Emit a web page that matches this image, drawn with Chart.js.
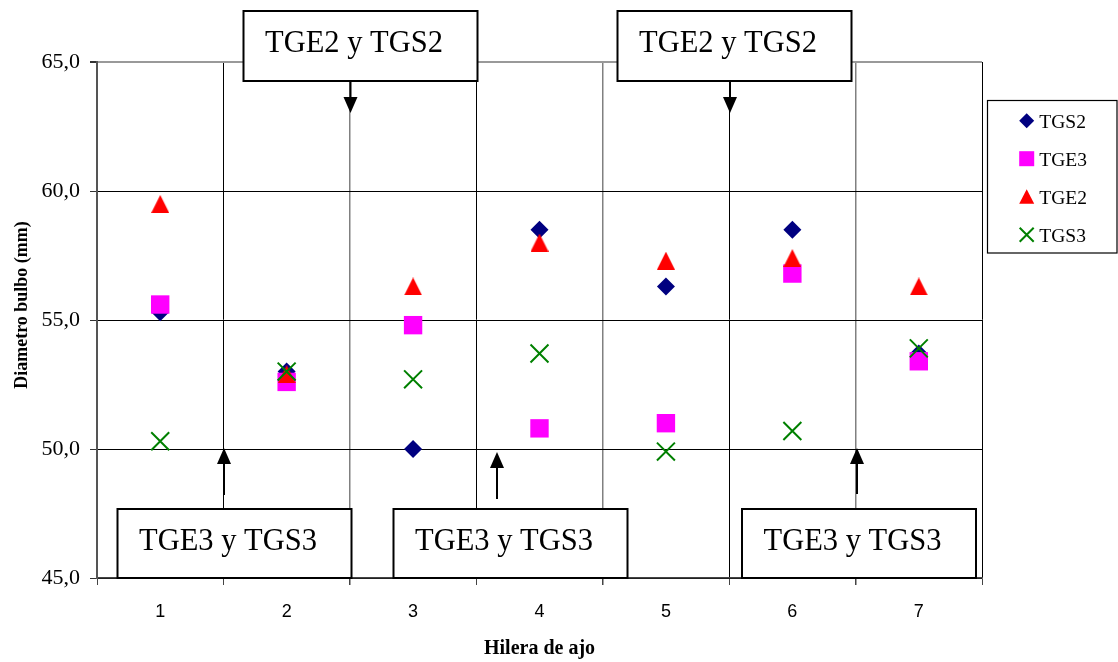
<!DOCTYPE html>
<html>
<head>
<meta charset="utf-8">
<script src="https://cdn.jsdelivr.net/npm/chart.js@4.4.0/dist/chart.umd.min.js"></script>
<style>
  html, body { margin: 0; padding: 0; background: #fff; }
  canvas { display: block; }
</style>
</head>
<body>
<canvas id="grafico" width="1118" height="662"></canvas>
<script>
// Datos
const hileras = ["1", "2", "3", "4", "5", "6", "7"];
const tgs2 = [55.3, 53.0, 50.0, 58.5, 56.3, 58.5, 53.7];
const tge3 = [55.6, 52.6, 54.8, 50.8, 51.0, 56.8, 53.4];
const tge2 = [59.5, 52.9, 56.3, 58.0, 57.3, 57.4, 56.3];
const tgs3 = [50.3, 53.0, 52.7, 53.7, 49.9, 50.7, 53.9];
const yTicks = [45, 50, 55, 60, 65];

// cuadros de texto con flechas (en pixeles)
const notas = [
  { texto: "TGE2 y TGS2", x: 243.5, y: 11, w: 234, h: 70, fx: 350.5, desde: 81, punta: 113 },
  { texto: "TGE2 y TGS2", x: 617.5, y: 11, w: 234, h: 70, fx: 730, desde: 81, punta: 113 },
  { texto: "TGE3 y TGS3", x: 117.5, y: 509, w: 234, h: 69, fx: 224, desde: 495, punta: 448 },
  { texto: "TGE3 y TGS3", x: 393.5, y: 509, w: 234, h: 69, fx: 497, desde: 499, punta: 452 },
  { texto: "TGE3 y TGS3", x: 742, y: 509, w: 234, h: 69, fx: 857, desde: 494, punta: 448 }
];

const colores = { tgs2: "#000080", tge3: "#ff00ff", tge2: "#ff0000", tgs3: "#008000" };

function triangulo(w, h, color) {
  const c = document.createElement("canvas");
  c.width = w;
  c.height = h;
  const g = c.getContext("2d");
  g.fillStyle = color;
  g.beginPath();
  g.moveTo(w / 2, 0);
  g.lineTo(w, h);
  g.lineTo(0, h);
  g.closePath();
  g.fill();
  return c;
}
const triImg = triangulo(18, 18, colores.tge2);

const vCol = ["#000", "#000", "#808080", "#000", "#808080", "#000", "#808080", "#999"];
const vAnc = [1, 1, 1.5, 1, 1.5, 1, 1.5, 2];

function marcador(ctx, tipo, x, y) {
  ctx.save();
  if (tipo === "rombo") {
    ctx.fillStyle = colores.tgs2;
    ctx.beginPath();
    ctx.moveTo(x, y - 7.5); ctx.lineTo(x + 7.5, y); ctx.lineTo(x, y + 7.5); ctx.lineTo(x - 7.5, y);
    ctx.closePath(); ctx.fill();
  } else if (tipo === "cuadro") {
    ctx.fillStyle = colores.tge3;
    ctx.fillRect(x - 7.5, y - 7.5, 15, 15);
  } else if (tipo === "tri") {
    ctx.fillStyle = colores.tge2;
    ctx.beginPath();
    ctx.moveTo(x, y - 7.5); ctx.lineTo(x + 7.5, y + 7); ctx.lineTo(x - 7.5, y + 7);
    ctx.closePath(); ctx.fill();
  } else {
    ctx.strokeStyle = colores.tgs3;
    ctx.lineWidth = 2;
    ctx.beginPath();
    ctx.moveTo(x - 7, y - 7); ctx.lineTo(x + 7, y + 7);
    ctx.moveTo(x + 7, y - 7); ctx.lineTo(x - 7, y + 7);
    ctx.stroke();
  }
  ctx.restore();
}

function flecha(ctx, x, y0, tip) {
  const dir = tip > y0 ? 1 : -1;
  const base = tip - dir * 16;
  ctx.strokeStyle = "#000";
  ctx.lineWidth = 2;
  ctx.beginPath();
  ctx.moveTo(x, y0);
  ctx.lineTo(x, base);
  ctx.stroke();
  ctx.fillStyle = "#000";
  ctx.beginPath();
  ctx.moveTo(x, tip);
  ctx.lineTo(x - 7, base);
  ctx.lineTo(x + 7, base);
  ctx.closePath();
  ctx.fill();
}

const extras = {
  id: "extras",
  beforeDraw(chart) {
    const ctx = chart.ctx;
    ctx.save();
    ctx.fillStyle = "#fff";
    ctx.fillRect(0, 0, chart.width, chart.height);
    ctx.restore();
  },
  afterDraw(chart) {
    const ctx = chart.ctx;
    ctx.save();

    // titulo eje y
    ctx.save();
    ctx.translate(22, 305);
    ctx.rotate(-Math.PI / 2);
    ctx.font = "bold 18px 'Liberation Serif'";
    ctx.fillStyle = "#000";
    ctx.textAlign = "center";
    ctx.textBaseline = "middle";
    ctx.fillText("Diametro bulbo (mm)", 0, 0);
    ctx.restore();

    // leyenda
    ctx.fillStyle = "#fff";
    ctx.fillRect(987, 100, 130, 153);
    ctx.strokeStyle = "#000";
    ctx.lineWidth = 1.2;
    ctx.strokeRect(987.5, 100.5, 129.5, 152.5);
    const items = [["rombo", "TGS2"], ["cuadro", "TGE3"], ["tri", "TGE2"], ["x", "TGS3"]];
    ctx.font = "19.5px 'Liberation Serif'";
    ctx.textAlign = "left";
    ctx.textBaseline = "alphabetic";
    items.forEach((it, i) => {
      const cy = 120.7 + i * 38;
      marcador(ctx, it[0], 1026.7, cy);
      ctx.fillStyle = "#000";
      ctx.fillText(it[1], 1039.3, cy + 7.2);
    });

    // cuadros con flechas
    notas.forEach(n => {
      flecha(ctx, n.fx, n.desde, n.punta);
      ctx.fillStyle = "#fff";
      ctx.fillRect(n.x, n.y, n.w, n.h);
      ctx.strokeStyle = "#000";
      ctx.lineWidth = 2;
      ctx.strokeRect(n.x, n.y, n.w, n.h);
      ctx.fillStyle = "#000";
      ctx.font = "30.5px 'Liberation Serif'";
      ctx.textAlign = "left";
      ctx.textBaseline = "alphabetic";
      ctx.fillText(n.texto, n.x + 21.5, n.y + 40.5);
    });
    ctx.restore();
  }
};

const chart = new Chart(document.getElementById("grafico"), {
  type: "line",
  data: {
    labels: hileras,
    datasets: [
      { label: "TGS2", data: tgs2, showLine: false, pointStyle: "rectRot", pointRadius: 9, pointHoverRadius: 9,
        backgroundColor: colores.tgs2, borderColor: colores.tgs2, pointBorderWidth: 0, order: 4 },
      { label: "TGE3", data: tge3, showLine: false, pointStyle: "rect", pointRadius: 13, pointHoverRadius: 13,
        backgroundColor: colores.tge3, borderColor: colores.tge3, pointBorderWidth: 0, order: 3 },
      { label: "TGE2", data: tge2, showLine: false, pointStyle: triImg, pointRadius: 9, pointHoverRadius: 9,
        backgroundColor: colores.tge2, borderColor: colores.tge2, pointBorderWidth: 0, order: 2 },
      { label: "TGS3", data: tgs3, showLine: false, pointStyle: "crossRot", pointRadius: 12.7, pointHoverRadius: 12.7,
        backgroundColor: colores.tgs3, borderColor: colores.tgs3, pointBorderWidth: 2, order: 1 }
    ]
  },
  options: {
    responsive: false,
    animation: false,
    events: [],
    layout: { padding: { top: 62, right: 136, left: 0, bottom: 0 } },
    plugins: {
      legend: { display: false },
      tooltip: { enabled: false }
    },
    scales: {
      x: {
        offset: true,
        grid: {
          offset: true,
          color: c => vCol[c.index] || "#000",
          lineWidth: c => vAnc[c.index] || 1,
          tickLength: 7,
          tickColor: "#444"
        },
        border: { color: "#444", width: 1.5 },
        ticks: { font: { family: "'Liberation Sans'", size: 18 }, color: "#000", padding: 16 },
        title: {
          display: true,
          text: "Hilera de ajo",
          font: { family: "'Liberation Serif'", size: 20, weight: "bold" },
          color: "#000",
          padding: { top: 0, bottom: 1 }
        },
        afterFit: s => { s.height = 84; }
      },
      y: {
        min: 45,
        max: 65,
        afterBuildTicks: s => { s.ticks = yTicks.map(v => ({ value: v })); },
        grid: {
          color: c => (c.tick && c.tick.value === 65) ? "#999" : "#000",
          lineWidth: c => (c.tick && c.tick.value === 65) ? 2 : 1,
          tickLength: 7,
          tickColor: "#333"
        },
        border: { color: "#555", width: 2 },
        ticks: {
          font: { family: "'Liberation Serif'", size: 22 },
          color: "#000",
          padding: 10,
          callback: v => v.toFixed(1).replace(".", ",")
        },
        afterFit: s => { s.width = 97; }
      }
    }
  },
  plugins: [extras]
});
</script>
</body>
</html>
